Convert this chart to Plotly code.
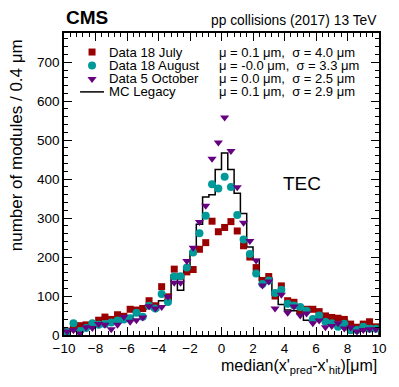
import numpy as np
import plotly.graph_objects as go

# 50 bins of 0.4 um from -10 to 10
edges = np.round(np.linspace(-10, 10, 51), 2)
centers = np.round(edges[:-1] + 0.2, 2)

july = [10, 18, 24, 26, 25, 38, 46, 40, 52, 48,
        66, 64, 68, 88, 75, 124, 98, 169, 150, 162,
        168, 220, 237, 292, 265, 276, 291, 267, 229, 200,
        173, 140, 150, 100, 126, 88, 84, 62, 66, 66,
        60, 49, 45, 43, 40, 28, 20, 28, 34, 21]

august = [8, 30, 10, 18, 30, 26, 28, 32, 37, 40,
          43, 57, 47, 75, 68, 105, 85, 150, 151, 173,
          212, 261, 306, 387, 376, 406, 380, 308, 245, 208,
          158, 131, 140, 108, 116, 80, 76, 72, 62, 41,
          50, 34, 30, 21, 29, 12, 13, 21, 16, 16]

october = [9, 12, 4, 20, 18, 28, 26, 15, 26, 47,
           34, 38, 45, 74, 68, 72, 98, 134, 134, 190,
           224, 290, 332, 452, 494, 558, 472, 379, 288, 241,
           191, 127, 137, 68, 103, 57, 73, 50, 55, 30,
           37, 20, 23, 30, 17, 19, 9, 13, 15, 15]

mc = [8, 15, 15, 21, 21, 27, 27, 32, 32, 38,
      45, 51, 66, 70, 64, 88, 90, 154, 115, 175,
      214, 284, 354, 360, 425, 467, 425, 364, 312, 226,
      194, 140, 146, 103, 78, 64, 62, 55, 38, 38,
      43, 43, 38, 38, 38, 13, 13, 11, 14, 14]

labels = ["Data 18 July", "Data 18 August", "Data 5 October", "MC Legacy"]
stats = ["\u03bc = 0.1 \u03bcm,  \u03c3 = 4.0 \u03bcm",
         "\u03bc = -0.0 \u03bcm,  \u03c3 = 3.3 \u03bcm",
         "\u03bc = 0.0 \u03bcm,  \u03c3 = 2.5 \u03bcm",
         "\u03bc = 0.1 \u03bcm,  \u03c3 = 2.9 \u03bcm"]
colors = ["#990000", "#009999", "#660080", "black"]
symbols = ["square", "circle", "triangle-down"]
sizes = [7, 8, 8]

FONT = "Liberation Sans, Arial, sans-serif"

fig = go.Figure()

# MC histogram as a step line
step_x = np.concatenate([[edges[0]], edges])
step_y = np.concatenate([[0], mc, [mc[-1]]])
fig.add_trace(go.Scatter(x=step_x, y=step_y, mode="lines",
                         line=dict(color="black", width=1.5, shape="hv"),
                         showlegend=False, hoverinfo="skip"))
fig.add_trace(go.Scatter(x=[edges[-1], edges[-1]], y=[mc[-1], 0], mode="lines",
                         line=dict(color="black", width=1.5),
                         showlegend=False, hoverinfo="skip"))

for vals, col, sym, sz in zip([july, august, october], colors, symbols, sizes):
    fig.add_trace(go.Scatter(x=centers, y=vals, mode="markers",
                             marker=dict(symbol=sym, size=sz, color=col, line=dict(width=0)),
                             showlegend=False))

# hand-made legend on an overlay axis (0..1 across the frame)
leg_y = [0.937, 0.892, 0.848, 0.805]
for i in range(3):
    fig.add_trace(go.Scatter(x=[0.089], y=[leg_y[i]], mode="markers", xaxis="x2", yaxis="y2",
                             marker=dict(symbol=symbols[i], size=sizes[i], color=colors[i]),
                             showlegend=False, hoverinfo="skip"))
fig.add_trace(go.Scatter(x=[0.051, 0.127], y=[leg_y[3], leg_y[3]], mode="lines",
                         xaxis="x2", yaxis="y2", line=dict(color="black", width=1.5),
                         showlegend=False, hoverinfo="skip"))

ann = []
for i in range(4):
    ann.append(dict(x=0.137, y=leg_y[i], xref="paper", yref="paper", text=labels[i],
                    showarrow=False, xanchor="left", yanchor="middle",
                    font=dict(size=13.2, color="black", family=FONT)))
    ann.append(dict(x=0.486, y=leg_y[i], xref="paper", yref="paper", text=stats[i],
                    showarrow=False, xanchor="left", yanchor="middle",
                    font=dict(size=13, color="black", family=FONT)))

ann += [
    dict(x=0.0, y=1.01, xref="paper", yref="paper", text="<b>CMS</b>", showarrow=False,
         xanchor="left", yanchor="bottom", font=dict(size=19, color="black", family=FONT)),
    dict(x=1.0, y=1.01, xref="paper", yref="paper", text="pp collisions (2017) 13 TeV",
         showarrow=False, xanchor="right", yanchor="bottom",
         font=dict(size=13.8, color="black", family=FONT)),
    dict(x=0.756, y=0.503, xref="paper", yref="paper", text="TEC", showarrow=False,
         xanchor="center", yanchor="middle", font=dict(size=19, color="black", family=FONT)),
    dict(x=-0.15, y=0.985, xref="paper", yref="paper", text="number of modules / 0.4 \u03bcm",
         showarrow=False, textangle=-90, xanchor="center", yanchor="top",
         font=dict(size=17, color="black", family=FONT)),
    dict(x=1.0, y=-0.066, xref="paper", yref="paper",
         text="median(x'<sub>pred</sub>-x'<sub>hit</sub>)[\u03bcm]",
         showarrow=False, xanchor="right", yanchor="top",
         font=dict(size=16, color="black", family=FONT)),
]

axis_common = dict(showline=True, linecolor="black", linewidth=1.5, mirror="allticks",
                   ticks="inside", ticklen=8, tickwidth=1, tickcolor="black",
                   showgrid=False, zeroline=False,
                   tickfont=dict(size=13.5, color="black", family=FONT))

# page body has an 8px margin, so the figure is 8px smaller than the window
fig.update_layout(
    width=391, height=379,
    margin=dict(l=56, r=20, t=25, b=52),
    paper_bgcolor="white", plot_bgcolor="white",
    xaxis=dict(range=[-10, 10], dtick=2, tick0=-10,
               minor=dict(dtick=0.4, ticklen=4, ticks="inside", tickcolor="black"),
               **axis_common),
    yaxis=dict(range=[0, 775], dtick=100, tick0=0,
               minor=dict(dtick=20, ticklen=4, ticks="inside", tickcolor="black"),
               **axis_common),
    xaxis2=dict(range=[0, 1], overlaying="x", visible=False, fixedrange=True),
    yaxis2=dict(range=[0, 1], overlaying="y", visible=False, fixedrange=True),
    annotations=ann,
    showlegend=False,
)

fig.write_html("out.html")
